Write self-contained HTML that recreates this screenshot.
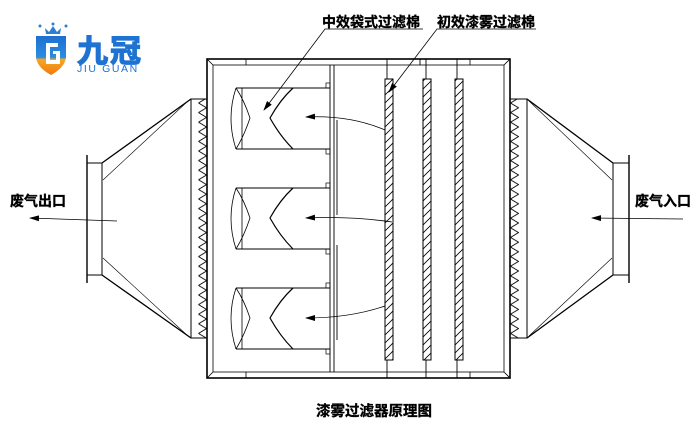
<!DOCTYPE html>
<html><head><meta charset="utf-8"><style>
html,body{margin:0;padding:0;background:#fff;width:700px;height:425px;overflow:hidden}
svg{display:block}
.t{font-family:"Liberation Sans","Noto Sans CJK SC",sans-serif;font-weight:bold;fill:#000;stroke:#000;stroke-width:0.35}
</style></head><body>
<svg width="700" height="425" viewBox="0 0 700 425" xmlns="http://www.w3.org/2000/svg">
<defs>
<pattern id="zzl" x="198" y="103" width="9" height="9.6" patternUnits="userSpaceOnUse">
<path d="M0.5,0 L8.5,4.8 L0.5,9.6" fill="none" stroke="#000" stroke-width="0.9"/>
</pattern>
<pattern id="zzr" x="510" y="103" width="9" height="9.6" patternUnits="userSpaceOnUse">
<path d="M0.5,0 L8.5,4.8 L0.5,9.6" fill="none" stroke="#000" stroke-width="0.9"/>
</pattern>
<pattern id="hh" x="0" y="0" width="8" height="8" patternUnits="userSpaceOnUse">
<path d="M-2,10 L10,-2 M-2,2 L2,-2 M6,10 L10,6" stroke="#000" stroke-width="0.8"/>
</pattern>
<linearGradient id="sg" x1="0" y1="0" x2="0" y2="1"><stop offset="0" stop-color="#1e6fd0"/><stop offset="0.55" stop-color="#2a8ee0"/><stop offset="0.6" stop-color="#f6a623"/><stop offset="1" stop-color="#f07a10"/></linearGradient>
<marker id="ah" markerWidth="10" markerHeight="6" refX="9" refY="3" orient="auto" markerUnits="userSpaceOnUse"><path d="M0,0 L10,3 L0,6 z" fill="#000"/></marker>
</defs>

<!-- logo -->
<path d="M45,28 L49,32 L53,26 L57,32 L61,28 L60,34 L46,34 z" fill="#2a7fd4"/>
<circle cx="40" cy="26" r="1.5" fill="#2a7fd4"/><circle cx="53" cy="24" r="1.5" fill="#2a7fd4"/><circle cx="66" cy="26" r="1.5" fill="#2a7fd4"/>
<path d="M36,36 L66,36 L66,58 Q64,68 51,75 Q38,68 36,58 z" fill="url(#sg)"/>
<path d="M46,43 L58,43 L58,47 L50,47 L50,60 L56,60 L56,54 L53,54 L53,51 L60,51 L60,64 L46,64 z" fill="#fff"/>
<text x="77" y="62" style="font-family:'Noto Sans CJK SC',sans-serif;font-weight:bold;font-size:31px;fill:#1e72d2;stroke:#1e72d2;stroke-width:1.2;letter-spacing:2px">九冠</text>
<text x="77" y="72" style="font-family:'Liberation Sans',sans-serif;font-size:10.5px;fill:#1e72d2;letter-spacing:1.6px">JIU GUAN</text>

<g fill="none" stroke="#000" stroke-width="1">
<!-- main box -->
<rect x="207" y="59" width="303" height="319" stroke-width="1.6"/>
<rect x="213" y="65" width="291" height="307" stroke-width="0.8"/>
<path d="M207,59 L213,65 M510,59 L504,65 M207,378 L213,372 M510,378 L504,372" stroke-width="0.8"/>
<path d="M246,59 V65 M246,372 V378 M470,59 V65 M470,372 V378" stroke-width="0.8"/>
<!-- left transition -->
<rect x="191" y="99" width="16" height="239"/>
<rect x="198" y="99" width="9" height="239" fill="url(#zzl)" stroke="none"/>
<path d="M191,99 L102,163 M191,338 L102,275" stroke-width="1.3"/>
<path d="M188,101 L103,180 M188,336 L103,258" stroke-width="0.6"/>
<rect x="87" y="163" width="15" height="112"/>
<path d="M87,155 V283" stroke-width="1.4"/>
<!-- right transition -->
<rect x="510" y="99" width="17" height="239"/>
<rect x="510" y="99" width="9" height="239" fill="url(#zzr)" stroke="none"/>
<path d="M527,99 L613,163 M527,338 L613,275" stroke-width="1.3"/>
<path d="M529,101 L612,180 M529,336 L612,258" stroke-width="0.6"/>
<rect x="613" y="163" width="16" height="112"/>
<path d="M629,155 V283" stroke-width="1.4"/>
<!-- bag plate -->
<path d="M330,65 V372 M334,65 V372" stroke-width="0.9"/>
<path d="M337,120 V215 M337,245 V340" stroke-width="0.9"/>
<!-- bags -->
<g id="bag">
<path d="M236,88 H330 M236,149 H330"/>
<path d="M236,88 Q226,118 236,149 M236,88 Q244,100 250,118 Q244,136 236,149 M242,88 V149" stroke-width="0.8"/>
<path d="M293,88 Q280,100 270,118 Q280,136 293,149" stroke-width="1.2"/>
<rect x="326" y="83" width="4" height="5" stroke-width="0.7"/>
<rect x="326" y="149" width="4" height="5" stroke-width="0.7"/>
</g>
<use href="#bag" y="100"/>
<use href="#bag" y="200"/>
<!-- filters -->
<path d="M387,59 V79 M426,59 V79 M457,59 V79 M387,360 V378 M426,360 V378 M457,360 V378 M420,59 V65" stroke-width="0.9"/>
<rect x="385" y="79" width="8" height="281" fill="url(#hh)"/>
<rect x="423" y="79" width="8" height="281" fill="url(#hh)"/>
<rect x="455" y="79" width="8" height="281" fill="url(#hh)"/>
<!-- flow arrows -->
<path d="M385,130 Q350,115 306,117" stroke-width="0.8" marker-end="url(#ah)"/>
<path d="M392,222 Q350,216 306,218" stroke-width="0.8" marker-end="url(#ah)"/>
<path d="M385,306 Q350,318 306,318" stroke-width="0.8" marker-end="url(#ah)"/>
<path d="M117,221 L30,218" stroke-width="0.8" marker-end="url(#ah)"/>
<path d="M683,219 L592,218" stroke-width="0.8" marker-end="url(#ah)"/>
<!-- leaders -->
<path d="M423,29 H325 L264,110" stroke-width="0.8" marker-end="url(#ah)"/>
<path d="M536,29 H437 L389,92" stroke-width="0.8" marker-end="url(#ah)"/>
</g>

<text x="322" y="27" class="t" style="font-size:14px">中效袋式过滤棉</text>
<text x="437" y="27" class="t" style="font-size:14px">初效漆雾过滤棉</text>
<text x="10" y="206" class="t" style="font-size:14px">废气出口</text>
<text x="635" y="206" class="t" style="font-size:14px">废气入口</text>
<text x="316" y="416" class="t" style="font-size:14.5px">漆雾过滤器原理图</text>
</svg>
</body></html>
